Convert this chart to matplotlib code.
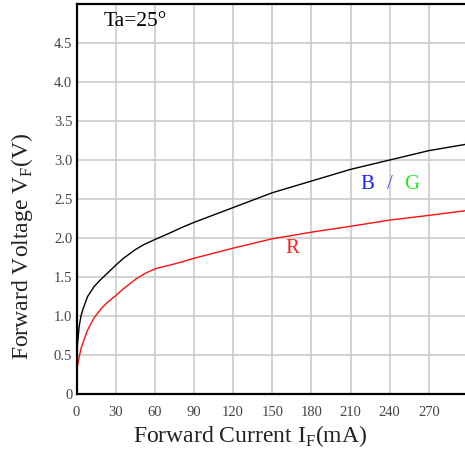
import matplotlib
matplotlib.use("Agg")
import matplotlib.pyplot as plt

bg_current = [0, 1, 2, 3.4, 5, 8.5, 13.6, 18.7, 25, 30, 36, 45, 51, 60, 71, 80, 90, 120, 150, 182, 210, 240, 270, 298]
bg_voltage = [0.48, 0.68, 0.86, 1.0, 1.09, 1.25, 1.38, 1.47, 1.57, 1.65, 1.74, 1.85, 1.91, 1.98, 2.06, 2.13, 2.2, 2.39, 2.58, 2.74, 2.88, 3.0, 3.12, 3.2]
r_current = [0, 1.5, 3.4, 5, 8.5, 13.6, 18.7, 24, 30, 36, 46, 53, 61, 71, 80, 90, 120, 150, 182, 210, 240, 270, 298]
r_voltage = [0.28, 0.43, 0.58, 0.66, 0.82, 0.98, 1.09, 1.18, 1.26, 1.35, 1.48, 1.55, 1.61, 1.65, 1.69, 1.74, 1.87, 1.99, 2.08, 2.15, 2.23, 2.29, 2.35]
x_ticks = [0, 30, 60, 90, 120, 150, 180, 210, 240, 270]
y_ticks = [0, 0.5, 1.0, 1.5, 2.0, 2.5, 3.0, 3.5, 4.0, 4.5]
y_ticklabels = ["0", "0.5", "1.0", "1.5", "2.0", "2.5", "3.0", "3.5", "4.0", "4.5"]

font = "Liberation Serif"
W, H = 465, 450
fig = plt.figure(figsize=(4.65, 4.5), dpi=100)
ax = fig.add_axes([76.5/W, 56/H, 1 - 76.5/W, 390/H])
ax.plot(bg_current, bg_voltage, color="black", lw=1.0)
ax.plot(r_current, r_voltage, color="#ff1010", lw=1.0)
ax.set_xlim(0, 297.7)
ax.set_ylim(0, 5.0)
ax.set_xticks(x_ticks)
ax.set_xticklabels([str(v) for v in x_ticks], fontfamily=font, fontsize=10.5, color="#444444")
ax.set_yticks(y_ticks)
ax.set_yticklabels(y_ticklabels, fontfamily=font, fontsize=10.5, color="#444444")
ax.tick_params(axis="x", length=0, pad=9)
ax.tick_params(axis="y", length=0, pad=3)
ax.grid(True, color="#c8c8c8", lw=1.1)
ax.set_axisbelow(True)
for s in ["left", "bottom", "top"]:
    ax.spines[s].set_linewidth(1.6)
ax.spines["right"].set_visible(False)
fig.text(250/W, 1 - 436/H, "Forward Current I$_{\\mathregular{F}}$(mA)", fontfamily=font,
         fontsize=17, color="#222222", ha="center", va="center")
fig.text(22/W, 1 - 246.5/H, "Forward Voltage V$_{\\mathregular{F}}$(V)", fontfamily=font,
         fontsize=17, color="#222222", ha="center", va="center", rotation=90)
ax.text(0.07, 0.956, "Ta=25°", transform=ax.transAxes, fontfamily=font, fontsize=15.5, ha="left", va="center")
ax.text(222.7, 2.69, "B", color="#2020ff", fontfamily=font, fontsize=15, ha="center", va="center")
ax.text(239.8, 2.69, "/", color="#5050ff", fontfamily=font, fontsize=15, ha="center", va="center")
ax.text(257, 2.69, "G", color="#22ee22", fontfamily=font, fontsize=15, ha="center", va="center")
ax.text(165, 1.87, "R", color="#ff2020", fontfamily=font, fontsize=15, ha="center", va="center")
fig.savefig("out.png", dpi=100)
